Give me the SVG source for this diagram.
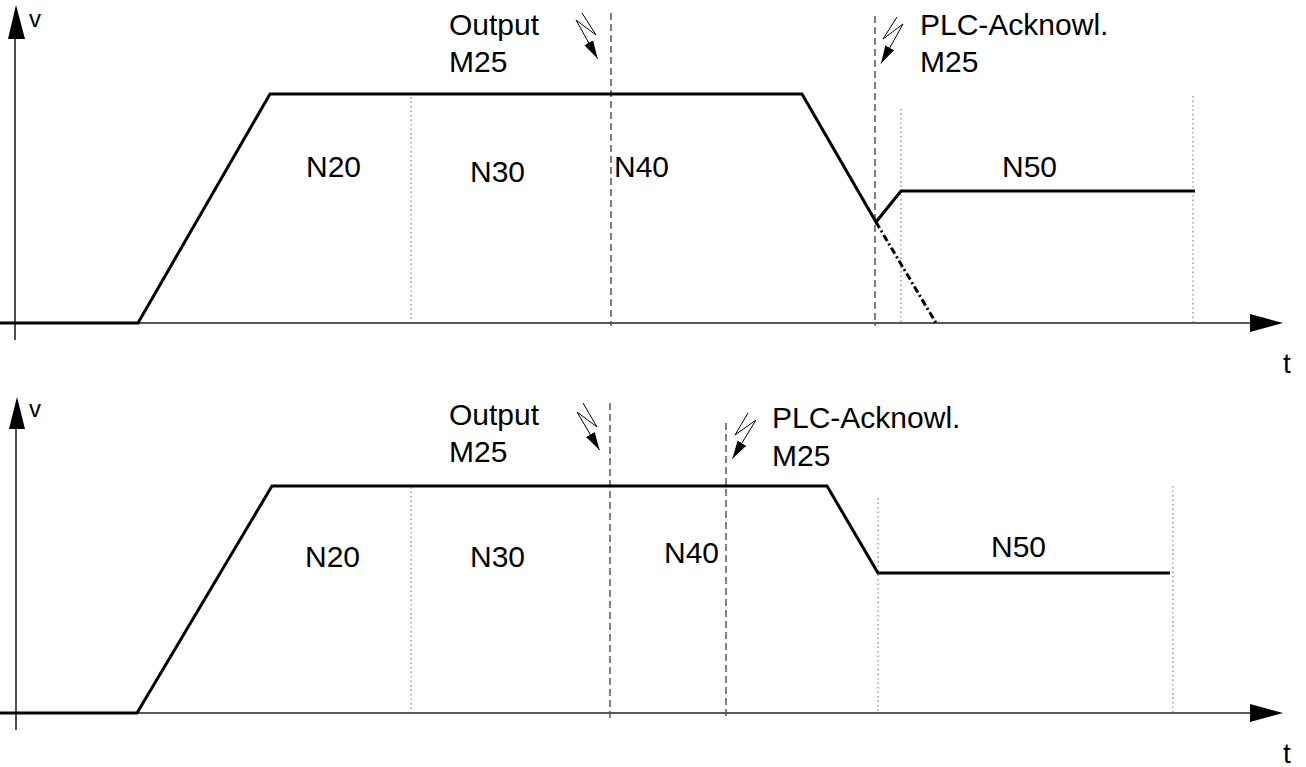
<svg xmlns="http://www.w3.org/2000/svg" width="1306" height="767" viewBox="0 0 1306 767">
<style>
text{font-family:"Liberation Sans",Arial,sans-serif;font-size:30px;fill:#000}
.axis{stroke:#222;stroke-width:1.6;fill:none}
.curve{stroke:#000;stroke-width:3;fill:none;stroke-linejoin:miter}
.dot{stroke:#888;stroke-width:1.2;stroke-dasharray:1.5 3;fill:none}
.dash{stroke:#555;stroke-width:1.5;stroke-dasharray:7 4;fill:none}
.dashdot{stroke:#000;stroke-width:3;stroke-dasharray:7 3 2 3;fill:none}
.bolt{stroke:#000;stroke-width:1;fill:none;marker-end:url(#ah)}
.head{fill:#000}
</style>
<defs>
<marker id="ah" markerUnits="userSpaceOnUse" markerWidth="20" markerHeight="12" refX="18" refY="5" orient="auto">
<path d="M0,0 L18,5 L0,10 Z" fill="#000"/>
</marker>
</defs>
<g id="top-plot">
<g id="top-axes">
<line class="axis" x1="15" y1="38" x2="15" y2="340"/>
<polygon class="head" points="16,5 8,39 25,39"/>
<text x="29" y="27" style="font-size:24px">v</text>
<line class="axis" x1="0" y1="323" x2="1252" y2="323"/>
<polygon class="head" points="1283,323 1250,314 1250,332"/>
<text x="1283" y="373" style="font-size:28px">t</text>
</g>
<g id="top-guides">
<line class="dot" x1="411" y1="97" x2="411" y2="322"/>
<line class="dot" x1="901" y1="109" x2="901" y2="322"/>
<line class="dot" x1="1193" y1="96" x2="1193" y2="322"/>
<line class="dash" x1="611" y1="13" x2="611" y2="326"/>
<line class="dash" x1="875" y1="16" x2="875" y2="326"/>
</g>
<g id="top-curve">
<polyline class="curve" points="0,323 138,323 270,94 802,94 876,222 901,191 1195,191"/>
<line class="dashdot" x1="876" y1="222" x2="936" y2="323"/>
</g>
<g id="top-labels">
<text x="449" y="35">Output</text>
<text x="449" y="72">M25</text>
<polyline class="bolt" points="582,13 596,35 576,20 597.5,58.5"/>
<text x="920" y="35">PLC-Acknowl.</text>
<text x="920" y="72">M25</text>
<polyline class="bolt" points="897,17 883,39 903,24 881,63.5"/>
<text x="306" y="177">N20</text>
<text x="470" y="182">N30</text>
<text x="614" y="177">N40</text>
<text x="1002" y="177">N50</text>
</g>
</g>
<g id="bottom-plot">
<g id="bottom-axes">
<line class="axis" x1="16" y1="427" x2="16" y2="730"/>
<polygon class="head" points="17,397 9,429 25,429"/>
<text x="29" y="417" style="font-size:24px">v</text>
<line class="axis" x1="0" y1="713" x2="1252" y2="713"/>
<polygon class="head" points="1283,713 1250,704 1250,722"/>
<text x="1283" y="763" style="font-size:28px">t</text>
</g>
<g id="bottom-guides">
<line class="dot" x1="411" y1="487" x2="411" y2="712"/>
<line class="dot" x1="878" y1="498" x2="878" y2="712"/>
<line class="dot" x1="1173" y1="486" x2="1173" y2="712"/>
<line class="dash" x1="610" y1="403" x2="610" y2="718"/>
<line class="dash" x1="726" y1="423" x2="726" y2="718"/>
</g>
<g id="bottom-curve">
<polyline class="curve" points="0,713 137,713 272,486 827,486 878,573 1170,573"/>
</g>
<g id="bottom-labels">
<text x="449" y="425">Output</text>
<text x="449" y="462">M25</text>
<polyline class="bolt" points="583,403 597,427 577,412 599.5,450"/>
<text x="772" y="428">PLC-Acknowl.</text>
<text x="772" y="466">M25</text>
<polyline class="bolt" points="748,413 735,435 756,420 732.5,458.5"/>
<text x="305" y="567">N20</text>
<text x="470" y="567">N30</text>
<text x="664" y="563">N40</text>
<text x="991" y="557">N50</text>
</g>
</g>
</svg>
